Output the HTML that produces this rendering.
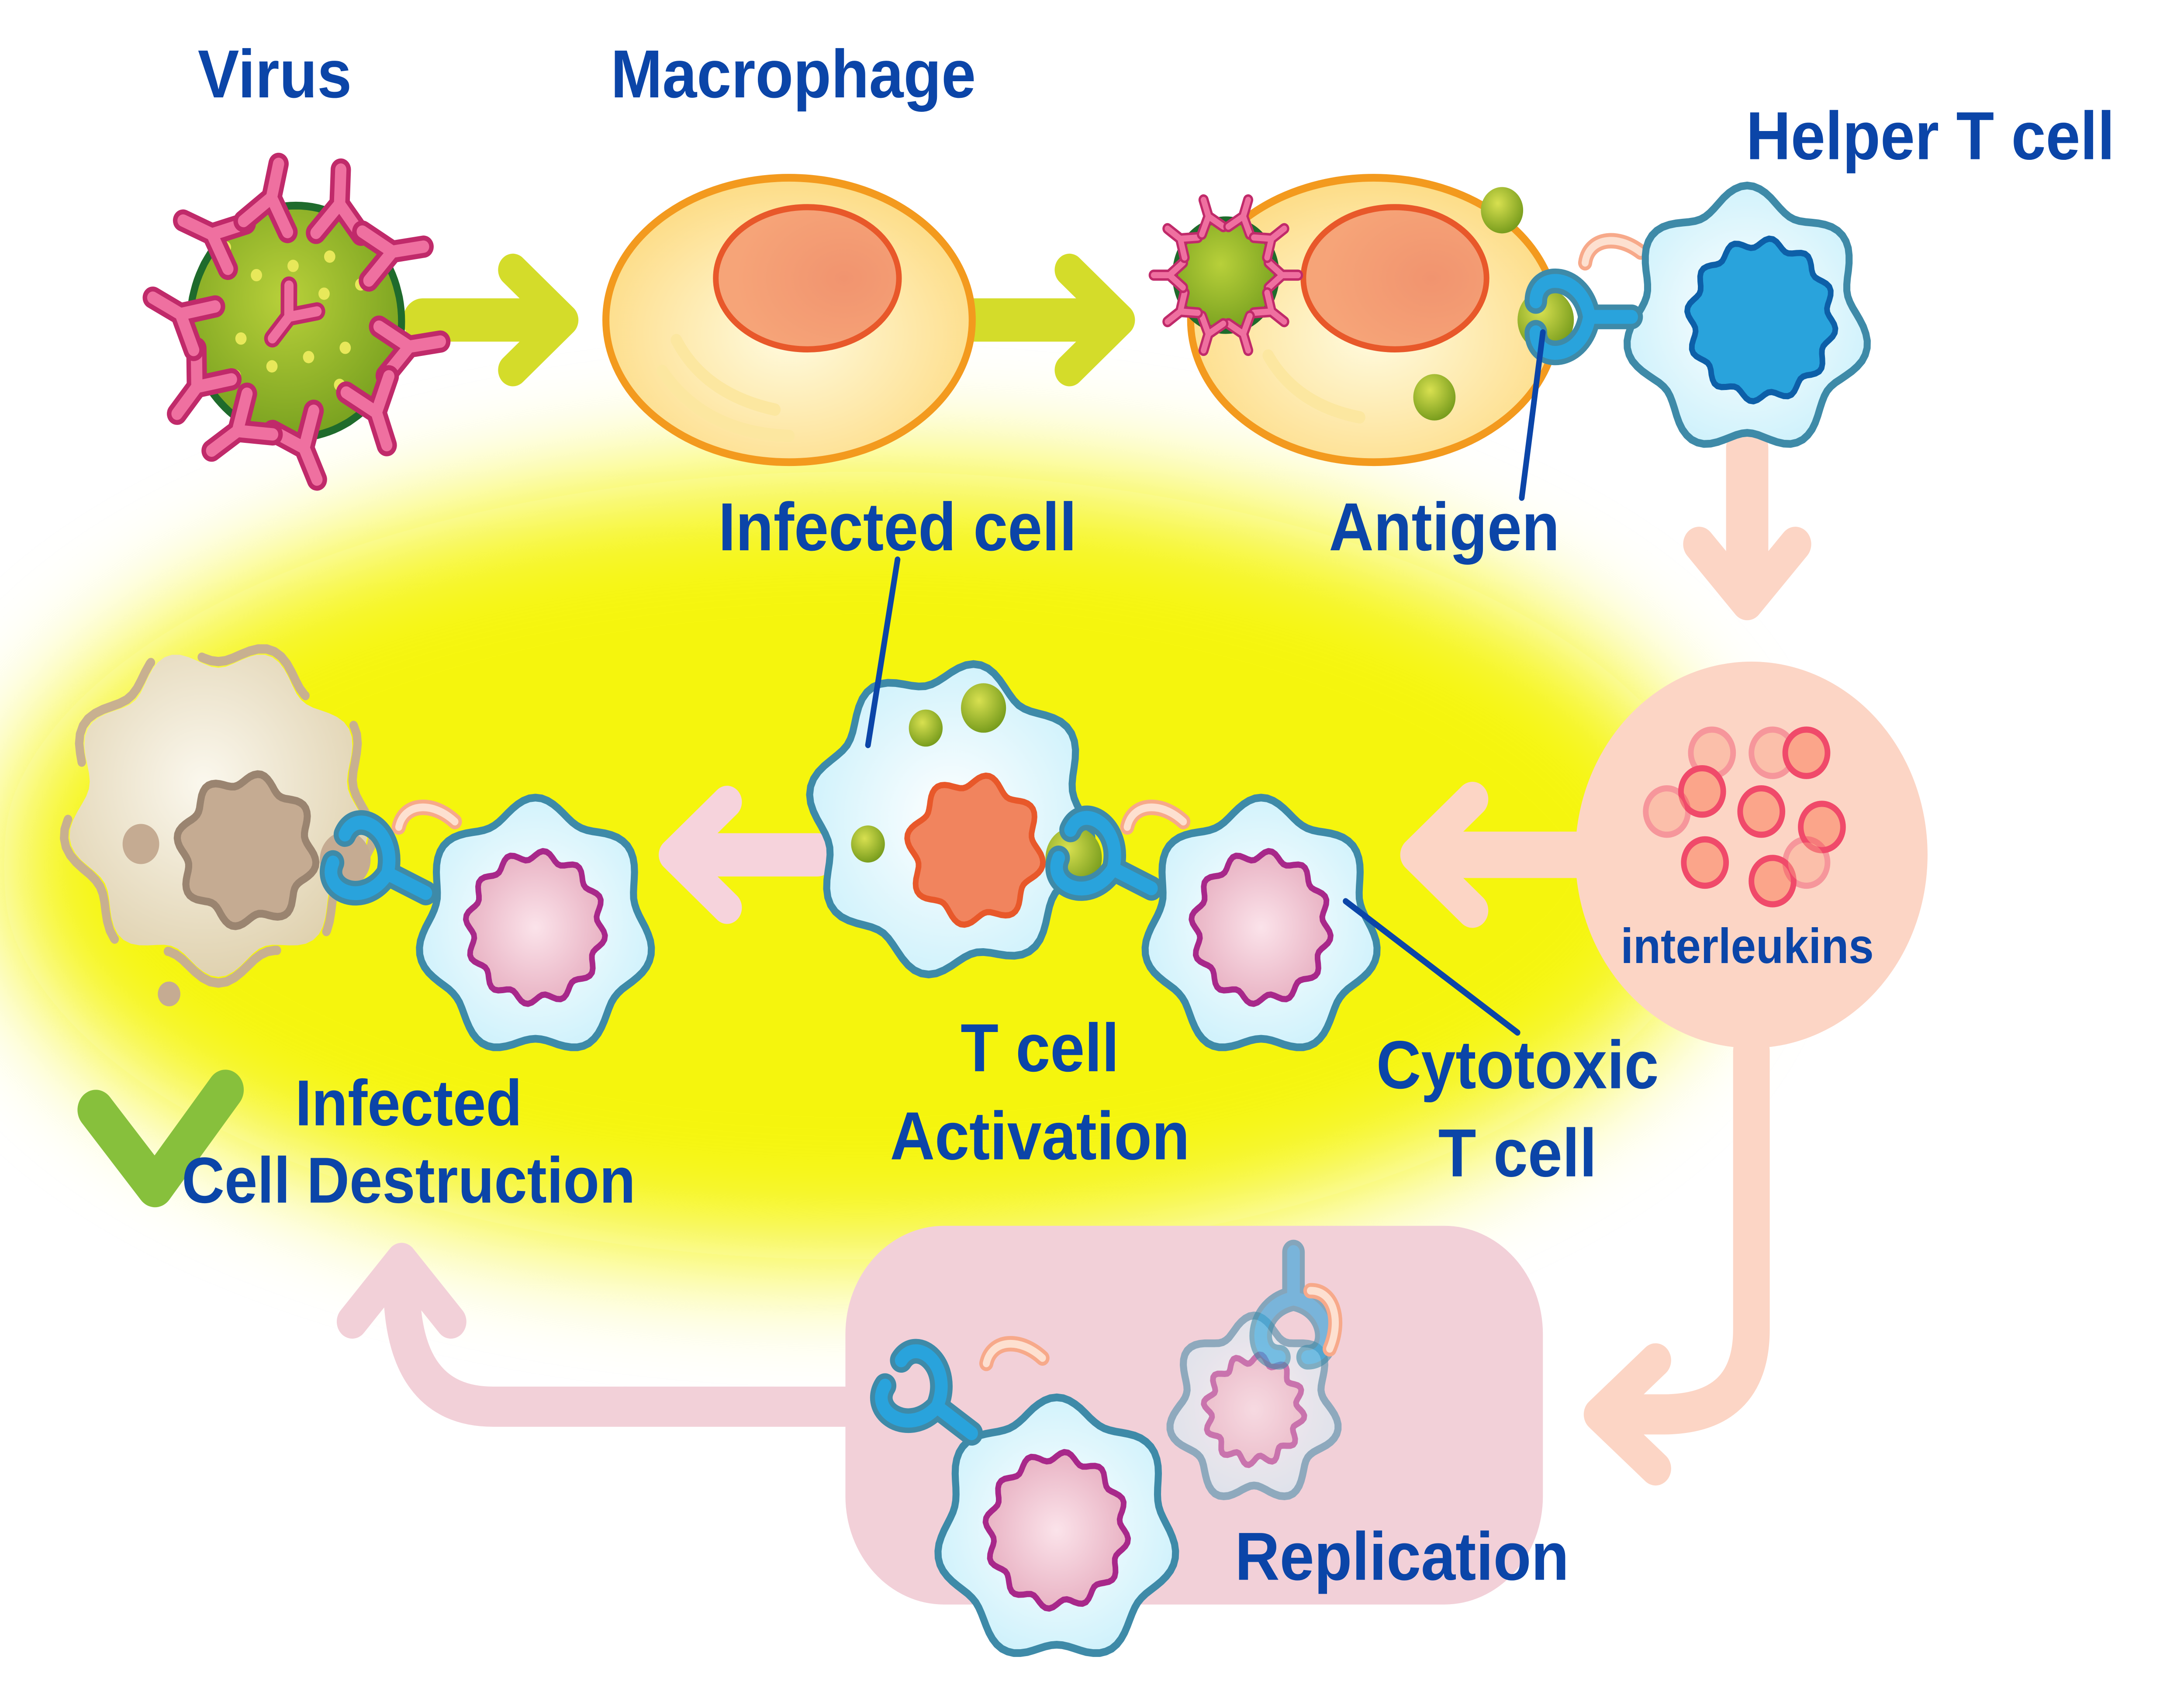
<!DOCTYPE html>
<html><head><meta charset="utf-8"><style>
html,body{margin:0;padding:0;background:#fff;overflow:hidden;width:100%;height:100%}
svg{display:block;position:fixed;left:0;top:0;width:100vw;height:100vh}
text{font-family:"Liberation Sans",Arial,sans-serif;font-weight:bold;fill:#0b45a8}
</style></head><body>
<svg id="s" viewBox="0 0 1550 1092" preserveAspectRatio="none" xmlns="http://www.w3.org/2000/svg">
<defs>
<filter id="blur" x="-20%" y="-40%" width="140%" height="180%"><feGaussianBlur stdDeviation="38"/></filter>
<radialGradient id="mac" cx="50%" cy="55%" r="55%"><stop offset="0" stop-color="#fffbe0"/><stop offset="1" stop-color="#fddc86"/></radialGradient>
<radialGradient id="nuc" cx="70%" cy="50%" r="60%"><stop offset="0" stop-color="#f1946f"/><stop offset="1" stop-color="#f6a478"/></radialGradient>
<radialGradient id="tc" cx="50%" cy="50%" r="55%"><stop offset="0" stop-color="#ffffff"/><stop offset="1" stop-color="#cdf1fb"/></radialGradient>
<radialGradient id="pk" cx="50%" cy="50%" r="55%"><stop offset="0" stop-color="#fbe3ea"/><stop offset="1" stop-color="#e7aec0"/></radialGradient>
<radialGradient id="dead" cx="45%" cy="40%" r="60%"><stop offset="0" stop-color="#fbf8ee"/><stop offset="1" stop-color="#e0d2b0"/></radialGradient>
<radialGradient id="vir" cx="45%" cy="40%" r="60%"><stop offset="0" stop-color="#b8d03a"/><stop offset="1" stop-color="#7aa220"/></radialGradient>
<radialGradient id="gd" cx="40%" cy="35%" r="65%"><stop offset="0" stop-color="#d8e050"/><stop offset="1" stop-color="#7a9e1e"/></radialGradient>
</defs>
<ellipse cx="610" cy="560" rx="610" ry="255" fill="#f5f50a" filter="url(#blur)"/>
<g id="g"></g>
<text x="195" y="63" font-size="44" text-anchor="middle">Virus</text>
<text x="563" y="63" font-size="44" text-anchor="middle">Macrophage</text>
<text x="1370" y="103" font-size="44" text-anchor="middle">Helper T cell</text>
<text x="637" y="356" font-size="44" text-anchor="middle">Infected cell</text>
<text x="1025" y="356" font-size="44" text-anchor="middle">Antigen</text>
<text x="1240" y="623" font-size="32" text-anchor="middle">interleukins</text>
<text x="738" y="693" font-size="44" text-anchor="middle">T cell</text>
<text x="738" y="750" font-size="44" text-anchor="middle">Activation</text>
<text x="1077" y="704" font-size="44" text-anchor="middle">Cytotoxic</text>
<text x="1077" y="761" font-size="44" text-anchor="middle">T cell</text>
<text x="290" y="728" font-size="42" text-anchor="middle">Infected</text>
<text x="290" y="778" font-size="42" text-anchor="middle">Cell Destruction</text>
<text x="995" y="1022" font-size="44" text-anchor="middle">Replication</text>
</svg>
<script>
var g=document.getElementById('g'),h='';
function wav(cx,cy,r,n,a,rx){rx=rx||1;var d='';for(var i=0;i<=120;i++){var t=i/120*Math.PI*2,rr=r+a*Math.sin(n*t);d+=(i?'L':'M')+(cx+rr*Math.cos(t)*rx).toFixed(1)+','+(cy+rr*Math.sin(t)).toFixed(1);}return d+'Z';}
function P(d,f,s,w,ex){h+='<path d="'+d+'" fill="'+f+'" stroke="'+s+'" stroke-width="'+w+'" stroke-linejoin="round" stroke-linecap="round" '+(ex||'')+'/>';}
function tcell(cx,cy,r,op){h+='<g opacity="'+(op||1)+'">';P(wav(cx,cy,r,7,6),'url(#tc)','#3e8aa8',5);P(wav(cx,cy,r*0.6,12,3),'url(#pk)','#a8288a',4);h+='</g>';}
function arr(x1,y1,x2,y2,c,w,hs){var a=Math.atan2(y2-y1,x2-x1),ux=Math.cos(a),uy=Math.sin(a);P('M'+x1+','+y1+'L'+(x2-ux*hs*0.6)+','+(y2-uy*hs*0.6),'none',c,w);P('M'+(x2-ux*hs-uy*hs*0.9)+','+(y2-uy*hs+ux*hs*0.9)+'L'+x2+','+y2+'L'+(x2-ux*hs+uy*hs*0.9)+','+(y2-uy*hs-ux*hs*0.9),'none',c,w*0.75);}
function ab(x,y,a,s,c,c2){h+='<g transform="translate('+x+','+y+') rotate('+a+') scale('+s+')"><path d="M0,0L0,14M0,0L-10,-12M0,0L10,-12" fill="none" stroke="'+c2+'" stroke-width="9" stroke-linecap="round"/><path d="M0,0L0,14M0,0L-10,-12M0,0L10,-12" fill="none" stroke="'+c+'" stroke-width="5" stroke-linecap="round"/></g>';}
function rec(x,y,a){h+='<g transform="translate('+x+','+y+') rotate('+a+')"><path d="M0,0L30,0M0,0C-5,-28 -38,-30 -38,-10M0,0C-5,28 -38,30 -38,10" fill="none" stroke="#3e8aa8" stroke-width="16" stroke-linecap="round"/><path d="M0,0L30,0M0,0C-5,-28 -38,-30 -38,-10M0,0C-5,28 -38,30 -38,10" fill="none" stroke="#29a3dc" stroke-width="9" stroke-linecap="round"/></g>';}
function hook(x,y,a){h+='<g transform="translate('+x+','+y+') rotate('+a+')"><path d="M0,0C5,-15 25,-15 40,0" fill="none" stroke="#f7a98a" stroke-width="10" stroke-linecap="round"/><path d="M0,0C5,-15 25,-15 40,0" fill="none" stroke="#fde0d0" stroke-width="5" stroke-linecap="round"/></g>';}
h+='<rect x="600" y="793" width="495" height="245" rx="70" fill="#f2d0d8"/>';
P('M1243,680L1243,860Q1243,915 1180,915L1140,915','none','#fcd5c5',26);P('M1175,880L1135,915L1175,950','none','#fcd5c5',22);
P('M600,910L350,910Q285,910 285,830L285,820','none','#f2d0d8',26);P('M250,855L285,815L320,855','none','#f2d0d8',22);
arr(1120,553,1005,553,'#fcd5c5',30,40);arr(580,553,478,553,'#f6d3dc',28,38);
arr(1240,290,1240,390,'#fcd5c5',30,38);
arr(300,207,400,207,'#d4dc2a',28,36);arr(690,207,795,207,'#d4dc2a',28,36);
P(wav(210,208,75,0,0),'url(#vir)','#1f6b2c',5);
for(var i=0;i<14;i++){h+='<circle cx="'+(160+((i*37)%100))+'" cy="'+(160+((i*53)%100))+'" r="4" fill="#e8e85a"/>';}
var av=[0.2,0.8,1.5,2.1,2.6,3.2,3.9,4.5,5.1,5.7];
for(i=0;i<av.length;i++){var t=av[i];ab(210+Math.cos(t)*82,208+Math.sin(t)*82,t*57.3+90+180+(i%2?25:-20),1.6,'#ef70a0','#c02a6a');}
ab(205,205,40,1.3,'#ef70a0','#c02a6a');
h+='<ellipse cx="560" cy="207" rx="130" ry="92" fill="url(#mac)" stroke="#f39a1e" stroke-width="5"/>';
h+='<ellipse cx="573" cy="180" rx="65" ry="46" fill="url(#nuc)" stroke="#e8582a" stroke-width="4"/>';
P('M480,220Q500,255 550,265','none','#fce7a0',8);P('M470,240Q500,280 560,282','none','#fce7a0',8);
h+='<ellipse cx="975" cy="207" rx="130" ry="92" fill="url(#mac)" stroke="#f39a1e" stroke-width="5"/>';
h+='<ellipse cx="990" cy="180" rx="65" ry="46" fill="url(#nuc)" stroke="#e8582a" stroke-width="4"/>';
P('M900,230Q920,262 965,270','none','#fce7a0',8);
h+='<circle cx="870" cy="178" r="36" fill="url(#vir)" stroke="#1f6b2c" stroke-width="4"/>';
for(i=0;i<10;i++){t=i/10*6.283;ab(870+Math.cos(t)*40,178+Math.sin(t)*40,t*57.3+270,0.8,'#ef70a0','#c02a6a');}
h+='<circle cx="1066" cy="136" r="15" fill="url(#gd)"/><circle cx="1018" cy="257" r="15" fill="url(#gd)"/><circle cx="1097" cy="207" r="20" fill="url(#gd)"/>';
hook(1125,170,-10);
P(wav(1240,207,80,7,7),'url(#tc)','#3e8aa8',5);P(wav(1250,207,50,12,3),'#29a3dc','#0d5fa8',4);
rec(1128,205,0);
P('M1095,215L1080,322','none','#0b45a8',4);
h+='<circle cx="1243" cy="553" r="125" fill="#fcd5c5"/>';
var d=[[1215,487,0.5],[1258,487,0.5],[1282,487,1],[1208,512,1],[1183,525,0.5],[1250,525,1],[1293,535,1],[1210,558,1],[1258,570,1],[1282,558,0.5]];
d.forEach(function(p){h+='<circle cx="'+p[0]+'" cy="'+p[1]+'" r="15" fill="#fba58a" stroke="#f04a6a" stroke-width="4" opacity="'+(p[2]==1?1:0.45)+'"/>';});
P(wav(675,530,95,8,7),'url(#tc)','#3e8aa8',5);P(wav(692,550,45,8,4),'#f1845e','#e8582a',4);
h+='<circle cx="657" cy="471" r="12" fill="url(#gd)"/><circle cx="698" cy="458" r="16" fill="url(#gd)"/><circle cx="616" cy="546" r="12" fill="url(#gd)"/><circle cx="762" cy="555" r="20" fill="url(#gd)"/>';
P('M637,362L616,482','none','#0b45a8',4);
hook(800,535,-5);
tcell(895,600,78);rec(790,562,25);
P('M955,583L1077,668','none','#0b45a8',4);
P(wav(155,525,100,9,7),'url(#dead)','none',0);
P(wav(155,525,104,9,7),'none','#c8b090',6,'stroke-dasharray="90 40"');
P(wav(175,550,46,8,4),'#c5ab92','#9a8470',5);
h+='<circle cx="100" cy="546" r="13" fill="#c5ab92"/><circle cx="245" cy="556" r="18" fill="#c5ab92"/><circle cx="120" cy="643" r="8" fill="#c5ab92"/>';
hook(283,535,-5);
tcell(380,600,78);rec(275,565,25);
P('M68,718L110,768L160,705','none','#87c03c',26,'stroke-linecap="butt" stroke-linejoin="miter"');
tcell(890,912,55,0.55);h+='<g opacity="0.6">';rec(918,840,-90);h+='</g>';hook(930,835,70);
hook(700,882,-5);
tcell(750,990,80);rec(665,910,35);
g.innerHTML=h;
</script>
</body></html>
